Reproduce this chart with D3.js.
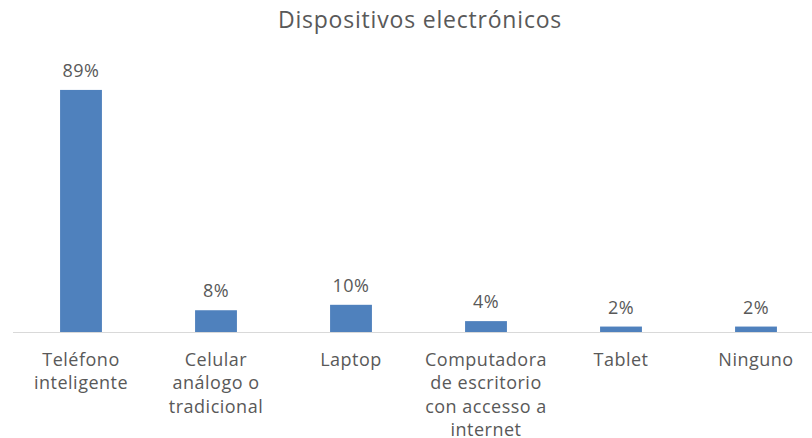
<!DOCTYPE html>
<html>
<head>
<meta charset="utf-8">
<script src="https://cdn.jsdelivr.net/npm/d3@7"></script>
<style>
  body { margin: 0; background: #fff; }
  text { font-family: "Open Sans", sans-serif; fill: #595959; }
</style>
</head>
<body>
<div id="chart"></div>
<script>
// data
let categories = [
    "Teléfono\ninteligente",
    "Celular\nanálogo o\ntradicional",
    "Laptop",
    "Computadora\nde escritorio\ncon accesso a\ninternet",
    "Tablet",
    "Ninguno"
];
let values = [0.89, 0.08, 0.10, 0.04, 0.02, 0.02];
let valueLabels = ["89%", "8%", "10%", "4%", "2%", "2%"];
let title = "Dispositivos electrónicos";

let width = 812,
    height = 438;

let svg = d3.select("#chart").append("svg")
    .attr("width", width)
    .attr("height", height);

let x = d3.scaleBand()
    .domain(categories)
    .range([13.5, 823.5]);

let y = d3.scaleLinear()
    .domain([0, 1])
    .range([332, 60]);

let barW = x.bandwidth() * 0.31;

svg.append("text")
    .attr("x", 420)
    .attr("y", 28)
    .attr("text-anchor", "middle")
    .style("font-size", "23px")
    .style("letter-spacing", "0.8px")
    .text(title);

// baseline
svg.append("line")
    .attr("x1", 13)
    .attr("x2", width)
    .attr("y1", y(0) + 0.5)
    .attr("y2", y(0) + 0.5)
    .attr("stroke", "#d9d9d9")
    .attr("stroke-width", 1);

svg.selectAll("rect.bar")
    .data(values)
    .enter()
    .append("rect")
    .attr("class", "bar")
    .attr("x", (d, i) => x(categories[i]) + x.bandwidth() / 2 - barW / 2)
    .attr("y", d => y(d))
    .attr("width", barW)
    .attr("height", d => y(0) - y(d))
    .attr("fill", "#4f81bd");

svg.selectAll("text.val")
    .data(values)
    .enter()
    .append("text")
    .attr("class", "val")
    .attr("x", (d, i) => x(categories[i]) + x.bandwidth() / 2)
    .attr("y", d => y(d) - 13)
    .attr("text-anchor", "middle")
    .style("font-size", "18px")
    .style("letter-spacing", "0.5px")
    .text((d, i) => valueLabels[i]);

// category labels, via the axis then split into lines
let axis = svg.append("g")
    .attr("transform", "translate(0," + y(0) + ")")
    .call(d3.axisBottom(x).tickSize(0).tickPadding(0));

axis.select(".domain").remove();

axis.selectAll(".tick text")
    .attr("y", 0)
    .attr("dy", null)
    .style("font-size", "18px")
    .style("letter-spacing", "0.5px")
    .attr("font-family", null)
    .each(function(d) {
        let t = d3.select(this);
        t.text(null);
        d.split("\n").forEach((line, k) => {
            t.append("tspan")
                .attr("x", 0)
                .attr("y", 33.5 + k * 23.5)
                .text(line);
        });
    });
</script>
</body>
</html>
